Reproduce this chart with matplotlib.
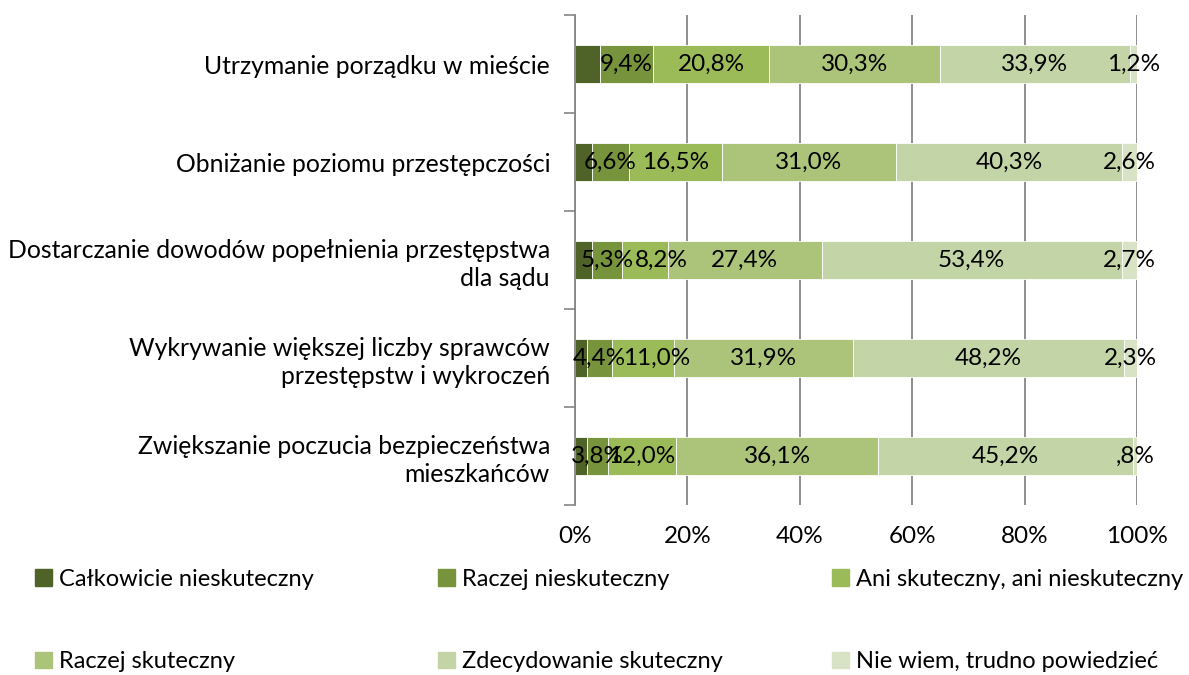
import matplotlib
matplotlib.use("Agg")
import matplotlib.pyplot as plt
from matplotlib.patches import Patch
import numpy as np

plt.rcParams['font.family'] = ['Lato', 'DejaVu Sans']

categories = [
    "Utrzymanie porządku w mieście",
    "Obniżanie poziomu przestępczości",
    "Dostarczanie dowodów popełnienia przestępstwa\ndla sądu",
    "Wykrywanie większej liczby sprawców\nprzestępstw i wykroczeń",
    "Zwiększanie poczucia bezpieczeństwa\nmieszkańców",
]
series_names = [
    "Całkowicie nieskuteczny",
    "Raczej nieskuteczny",
    "Ani skuteczny, ani nieskuteczny",
    "Raczej skuteczny",
    "Zdecydowanie skuteczny",
    "Nie wiem, trudno powiedzieć",
]
calkowicie = [4.4, 3.0, 3.0, 2.2, 2.1]
raczej_nie = [9.4, 6.6, 5.3, 4.4, 3.8]
ani = [20.8, 16.5, 8.2, 11.0, 12.0]
raczej_tak = [30.3, 31.0, 27.4, 31.9, 36.1]
zdecydowanie = [33.9, 40.3, 53.4, 48.2, 45.2]
nie_wiem = [1.2, 2.6, 2.7, 2.3, 0.8]
series_values = [calkowicie, raczej_nie, ani, raczej_tak, zdecydowanie, nie_wiem]
show_labels = [False, True, True, True, True, True]
colors = ["#4F6228", "#77933C", "#9BBB59", "#ABC47A", "#C3D5A7", "#D8E3C6"]
xticks = [0, 20, 40, 60, 80, 100]

# label nudges (series index, category index) -> offset in points, as in the original
label_nudge = {(2, 2): 12, (2, 3): 10}

def fmt(v):
    s = f"{v:.1f}".replace('.', ',')
    if s.startswith('0,'):
        s = s[1:]
    return s + '%'

fig = plt.figure(figsize=(11.89, 6.75), dpi=100)
ax = fig.add_axes([575/1189, 1-505/675, (1137-575)/1189, (505-15)/675])

y = np.arange(len(categories))
left = np.zeros(len(categories))
fs = 17.5
for si, (vals, name, col, lab) in enumerate(zip(series_values, series_names, colors, show_labels)):
    vals = np.array(vals)
    ax.barh(y, vals, left=left, height=0.39, color=col, label=name,
            edgecolor='white', linewidth=0.6, zorder=3)
    if lab:
        for ci, (yi, l, v) in enumerate(zip(y, left, vals)):
            ax.annotate(fmt(v), xy=(l + v/2, yi),
                        xytext=(label_nudge.get((si, ci), 0), 0),
                        textcoords='offset points', ha='center', va='center',
                        fontsize=fs, color='black', zorder=5)
    left += vals

ax.set_xlim(0, 100)
ax.set_ylim(len(categories)-0.5, -0.5)
ax.set_xticks(xticks)
ax.set_xticklabels([f"{t}%" for t in xticks], fontsize=fs)
ax.tick_params(axis='x', length=0, pad=15)
ax.set_yticks(y)
ax.set_yticklabels(categories, fontsize=17.8, ha='right', linespacing=1.25)
ax.tick_params(axis='y', length=0, pad=18)
ax.set_yticks(np.arange(-0.5, len(categories)), minor=True)
ax.tick_params(axis='y', which='minor', length=8, width=1.2, color='#868686', direction='out')
ax.grid(axis='x', color='#868686', linewidth=1.3, zorder=0)
for s in ['top', 'right', 'bottom']:
    ax.spines[s].set_visible(False)
ax.spines['left'].set_color('#868686')
ax.spines['left'].set_linewidth(1.3)
ax.spines['left'].set_zorder(4)

col_x = [35, 438, 832]
for c in range(3):
    handles = [Patch(color=colors[c]), Patch(color=colors[c+3])]
    labels = [series_names[c], series_names[c+3]]
    fig.legend(handles, labels, loc='upper left',
               bbox_to_anchor=(col_x[c]/1189, 1-569/675),
               frameon=False, fontsize=17, handlelength=0.7, handleheight=0.7,
               handletextpad=0.3, labelspacing=2.6, borderpad=0, borderaxespad=0)

fig.savefig("out.png", dpi=100)
